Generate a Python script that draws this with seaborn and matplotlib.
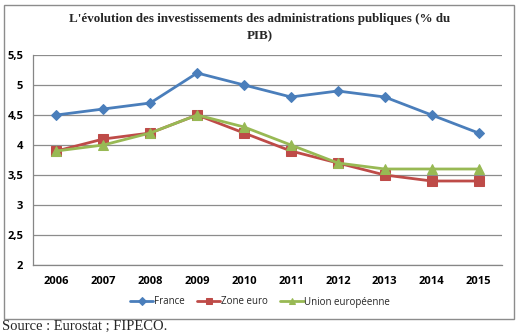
import matplotlib
matplotlib.use("Agg")
import matplotlib.pyplot as plt
import seaborn as sns
import pandas as pd
from matplotlib.patches import Rectangle
from matplotlib.ticker import FixedLocator, FuncFormatter

years = ["2006", "2007", "2008", "2009", "2010", "2011", "2012", "2013", "2014", "2015"]
france = [4.5, 4.6, 4.7, 5.2, 5.0, 4.8, 4.9, 4.8, 4.5, 4.2]
zone_euro = [3.9, 4.1, 4.2, 4.5, 4.2, 3.9, 3.7, 3.5, 3.4, 3.4]
union_eu = [3.9, 4.0, 4.2, 4.5, 4.3, 4.0, 3.7, 3.6, 3.6, 3.6]
series_names = ["France", "Zone euro", "Union européenne"]
y_ticks = [2, 2.5, 3, 3.5, 4, 4.5, 5, 5.5]

rows = []
for name, vals in zip(series_names, [france, zone_euro, union_eu]):
    for i, (yr, v) in enumerate(zip(years, vals)):
        rows.append({"pos": i, "year": yr, "value": v, "serie": name})
df = pd.DataFrame(rows)

sns.set_theme(style="white")
plt.rcParams["font.family"] = ["Open Sans", "DejaVu Sans"]

fig = plt.figure(figsize=(5.22, 3.36), dpi=100)
fig.patch.set_facecolor("white")

# outer chart frame
fig.patches.append(Rectangle((4 / 522, 1 - 319 / 336), 510 / 522, 314 / 336,
                             transform=fig.transFigure, fill=False,
                             edgecolor="#8c8c8c", linewidth=1.0))

ax = fig.add_axes([33 / 522, 1 - 265 / 336, (502 - 33) / 522, (265 - 55) / 336])

palette = {"France": "#4A7EBB", "Zone euro": "#BE4B48", "Union européenne": "#98B954"}
markers = {"France": "D", "Zone euro": "s", "Union européenne": "^"}
sizes = {"France": 5, "Zone euro": 6.5, "Union européenne": 6.5}

for name in series_names:
    sub = df[df["serie"] == name]
    sns.lineplot(data=sub, x="pos", y="value", ax=ax, color=palette[name],
                 marker=markers[name], markersize=sizes[name],
                 markeredgecolor=palette[name], linewidth=2.0, label=name,
                 legend=False)

ax.set_xlim(-0.5, len(years) - 0.5)
ax.set_ylim(2, 5.5)
ax.yaxis.set_major_locator(FixedLocator(y_ticks))
ax.yaxis.set_major_formatter(FuncFormatter(lambda v, p: f"{v:g}".replace(".", ",")))
ax.set_xticks(range(len(years)))
ax.set_xticklabels(years)
ax.xaxis.set_minor_locator(FixedLocator([i - 0.5 for i in range(len(years) + 1)]))
ax.tick_params(axis="x", which="major", length=0, pad=8, labelsize=8, colors="black")
ax.tick_params(axis="x", which="minor", length=4, width=0.8, color="#868686", direction="out")
ax.tick_params(axis="y", length=4, width=0.8, color="#868686", direction="out",
               labelsize=8, colors="black", pad=3)
ax.tick_params(axis="y", labelcolor="black")
ax.tick_params(axis="x", labelcolor="black")
for lbl in ax.get_xticklabels() + ax.get_yticklabels():
    lbl.set_fontweight("bold")

ax.grid(axis="y", color="#8c8c8c", linewidth=0.9)
ax.set_axisbelow(True)
for side in ["top", "right"]:
    ax.spines[side].set_visible(False)
for side in ["left", "bottom"]:
    ax.spines[side].set_color("#868686")
    ax.spines[side].set_linewidth(0.9)
ax.set_xlabel("")
ax.set_ylabel("")

handles, labels = ax.get_legend_handles_labels()
fig.legend(handles, labels, loc="center", bbox_to_anchor=(260 / 522, 1 - 302 / 336),
           ncol=3, frameon=False, fontsize=7, handlelength=2.4,
           handletextpad=0.05, columnspacing=1.3, markerscale=0.75)

fig.text(260 / 522, 1 - 27.5 / 336,
         "L'évolution des investissements des administrations publiques (% du\nPIB)",
         ha="center", va="center", fontsize=9.35, fontweight="bold",
         family=["Liberation Serif", "DejaVu Serif"], linespacing=1.55)

fig.text(2 / 522, 1 - 326 / 336, "Source : Eurostat ; FIPECO.", ha="left", va="center",
         fontsize=10.5, family=["Liberation Serif", "DejaVu Serif"])

fig.savefig("out.png", dpi=100, facecolor="white")
